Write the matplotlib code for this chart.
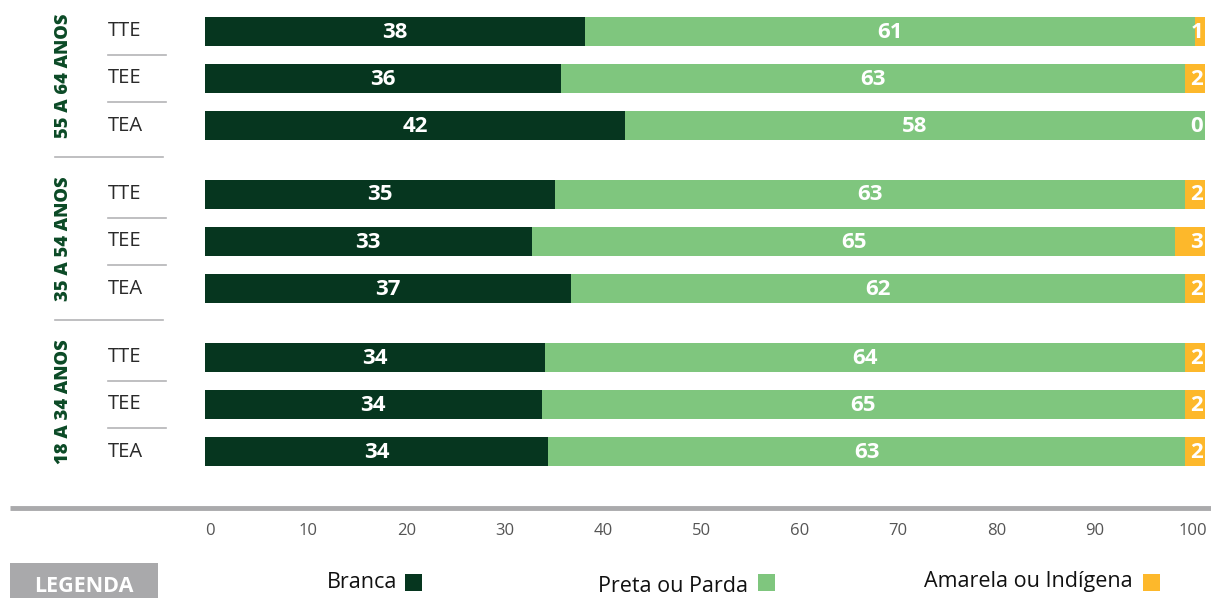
import matplotlib.pyplot as plt
import numpy as np

plt.rcParams['font.family'] = ['Open Sans', 'DejaVu Sans']

# Data
groups = ["55 A 64 ANOS", "35 A 54 ANOS", "18 A 34 ANOS"]
rows = ["TTE", "TEE", "TEA"]
branca = [38, 36, 42, 35, 33, 37, 34, 34, 34]
preta = [61, 63, 58, 63, 65, 62, 64, 65, 63]
amarela = [1, 2, 0, 2, 3, 2, 2, 2, 2]
ticks = [0, 10, 20, 30, 40, 50, 60, 70, 80, 90, 100]
legend_labels = ["Branca", "Preta ou Parda", "Amarela ou Indígena"]

c_dark = "#06361f"
c_light = "#7fc67e"
c_yellow = "#fdb82b"
c_group = "#0b4a26"
c_line = "#b4b4b6"

W, H = 1211, 598
fig = plt.figure(figsize=(W / 100, H / 100), dpi=100)

# overlay axes in pixel coordinates for decorations
ov = fig.add_axes([0, 0, 1, 1])
ov.set_xlim(0, W)
ov.set_ylim(H, 0)
ov.axis('off')

# bar axes: x 0..100 spans pixels 205..1205, y in pixels
ax = fig.add_axes([205 / W, 0, 1000 / W, 1])
ax.set_xlim(0, 100)
ax.set_ylim(H, 0)
ax.axis('off')

b = np.array(branca, float)
p = np.array(preta, float)
a = np.array(amarela, float)
tot = b + p + a
bn, pn, an = b / tot * 100, p / tot * 100, a / tot * 100

# bar centres: 3 groups of 3
ys = np.array([31 + g * 163 + i * 47.3 for g in range(3) for i in range(3)])
bh = 29

ax.barh(ys, bn, height=bh, color=c_dark)
ax.barh(ys, pn, left=bn, height=bh, color=c_light)
ax.barh(ys, an, left=bn + pn, height=bh, color=c_yellow)

lab = dict(color="white", fontweight="bold", fontsize=16, va="center")
for y, v1, v2, v3, w1, w2 in zip(ys, branca, preta, amarela, bn, pn):
    ax.text(w1 / 2, y + 1, str(v1), ha="center", **lab)
    ax.text(w1 + w2 / 2, y + 1, str(v2), ha="center", **lab)
    ax.text(99.8, y + 1, str(v3), ha="right", **lab)

# row labels and separators
for g in range(3):
    for i in range(3):
        y = ys[g * 3 + i]
        ov.text(125, y, rows[i], ha="center", va="center", fontsize=14.5,
                color="#2a2a2a")
        if i < 2:
            ov.plot([108, 166], [y + 23.5, y + 23.5], color=c_line, lw=1.2)
    gy = ys[g * 3 + 1] - 3
    ov.text(64, gy, groups[g], rotation=90, ha="center", va="center",
            fontsize=13.2, fontweight="heavy", color=c_group)
    if g < 2:
        ov.plot([55, 163], [ys[g * 3 + 2] + 31, ys[g * 3 + 2] + 31],
                color=c_line, lw=1.2)

# axis rule
ov.plot([10, W], [508, 508], color="#aaaaac", lw=3.5, solid_capstyle="butt")

# tick labels
axt = fig.add_axes([210 / W, 0, 983 / W, 1])
axt.set_xlim(0, 100)
axt.set_ylim(H, 0)
axt.axis('off')
for t in ticks:
    axt.text(t, 531, str(t), ha="center", va="center", fontsize=12,
             color="#555555")

# legend
ov.add_patch(plt.Rectangle((10, 563), 148, 40, color="#a9a9ab", lw=0))
ov.text(84, 586, "LEGENDA", ha="center", va="center", fontsize=15.5,
        fontweight="bold", color="white")

leg_colors = [c_dark, c_light, c_yellow]
leg_text_right = [397, 748, 1133]
leg_sq_x = [405, 758, 1143]
leg_y = [582, 586, 582]
for name, col, tx, sx, ly in zip(legend_labels, leg_colors, leg_text_right,
                                 leg_sq_x, leg_y):
    ov.text(tx, ly, name, ha="right", va="center", fontsize=15.5,
            color="#111111")
    ov.add_patch(plt.Rectangle((sx, 574), 17, 17, color=col, lw=0))

fig.savefig("out.png", dpi=100)
